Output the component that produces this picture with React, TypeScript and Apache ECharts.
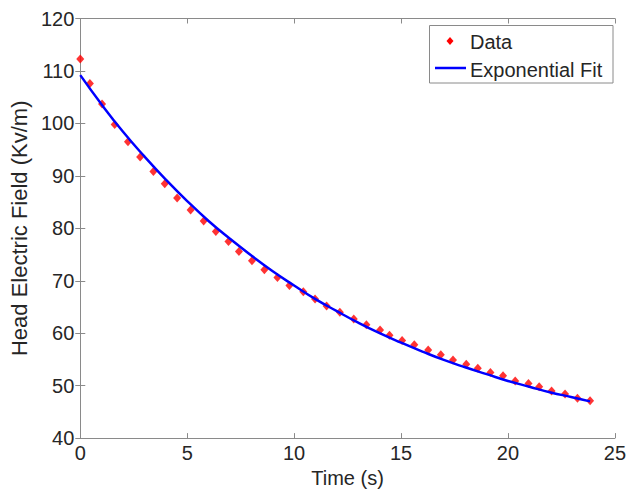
import React, { useEffect, useRef } from "react";
import * as echarts from "echarts";

const dataTime = [
  0, 0.45, 1.02, 1.61, 2.23, 2.8, 3.42, 3.95, 4.53, 5.16, 5.77, 6.34, 6.93, 7.42,
  8.03, 8.61, 9.22, 9.78, 10.43, 10.98, 11.52, 12.14, 12.79, 13.38, 14.02, 14.46,
  15.05, 15.62, 16.27, 16.86, 17.43, 18.05, 18.59, 19.18, 19.77, 20.34, 20.96,
  21.46, 22.04, 22.67, 23.25, 23.84,
];
const dataField = [
  112.3, 107.6, 103.7, 99.8, 96.5, 93.6, 90.85, 88.5, 85.8, 83.5, 81.4, 79.4, 77.5,
  75.6, 73.8, 72.1, 70.6, 69.1, 67.9, 66.5, 65.2, 64.0, 62.7, 61.6, 60.6, 59.6,
  58.6, 57.8, 56.8, 55.9, 54.9, 54.1, 53.3, 52.5, 51.9, 50.9, 50.4, 49.8, 49.0,
  48.4, 47.6, 47.1,
];

const fitTime = [
  0, 1, 2, 3, 4, 5, 6, 7, 8, 9, 10, 11, 12, 13, 14, 15, 16, 17, 18, 19, 20, 21, 22,
  23, 23.84,
];
const fitField = [
  109.2, 103.6, 98.4, 93.7, 89.3, 85.2, 81.4, 78.0, 74.8, 71.8, 69.1, 66.5, 64.2,
  62.0, 60.0, 58.2, 56.5, 54.9, 53.5, 52.2, 50.9, 49.8, 48.7, 47.8, 47.0,
];

const xTicks = { min: 0, max: 25, interval: 5 };
const yTicks = { min: 40, max: 120, interval: 10 };

const FONT = "'Liberation Sans', Arial, Helvetica, sans-serif";
const TEXT = "#262626";
const AXIS = "#8a8a8a";

export default function App() {
  const ref = useRef<HTMLDivElement>(null);

  useEffect(() => {
    document.body.style.margin = "0";
    if (!ref.current) return;
    const chart = echarts.init(ref.current, undefined, { renderer: "svg" });

    const axisCommon = {
      type: "value" as const,
      axisLine: { show: true, lineStyle: { color: AXIS, width: 1 } },
      axisTick: { show: true, inside: true, length: 5, lineStyle: { color: AXIS } },
      splitLine: { show: false },
    };

    chart.setOption({
      animation: false,
      backgroundColor: "#ffffff",
      textStyle: { fontFamily: FONT },
      grid: { left: 79, right: 12, top: 18.5, bottom: 49.5, containLabel: false },
      xAxis: [
        {
          ...axisCommon,
          ...xTicks,
          position: "bottom",
          name: "Time (s)",
          nameLocation: "middle",
          nameGap: 27,
          nameTextStyle: { fontSize: 20, color: TEXT, fontFamily: FONT },
          axisLabel: { fontSize: 20, color: TEXT, margin: 5, fontFamily: FONT },
        },
        {
          ...axisCommon,
          ...xTicks,
          position: "top",
          axisLabel: { show: false },
        },
      ],
      yAxis: [
        {
          ...axisCommon,
          ...yTicks,
          position: "left",
          name: "Head Electric Field (Kv/m)",
          nameLocation: "middle",
          nameGap: 44,
          nameTextStyle: { fontSize: 22, color: TEXT, fontFamily: FONT },
          axisLabel: { fontSize: 20, color: TEXT, margin: 6, fontFamily: FONT },
        },
        {
          ...axisCommon,
          ...yTicks,
          position: "right",
          axisLabel: { show: false },
        },
      ],
      series: [
        {
          name: "Data",
          type: "scatter",
          symbol: "diamond",
          symbolSize: [8, 9],
          itemStyle: { color: "#ff0000" },
          data: dataTime.map((t, i) => [t, dataField[i]]),
          z: 2,
        },
        {
          name: "Exponential Fit",
          type: "line",
          smooth: true,
          showSymbol: false,
          lineStyle: { color: "#0000ff", width: 2.5 },
          data: fitTime.map((t, i) => [t, fitField[i]]),
          z: 3,
        },
      ],
      graphic: [
        {
          type: "rect",
          shape: { x: 429.5, y: 25.5, width: 183.5, height: 57.5 },
          style: { fill: "#ffffff", stroke: AXIS, lineWidth: 1 },
          z: 10,
        },
        {
          type: "polygon",
          shape: {
            points: [
              [450, 37],
              [453.5, 41],
              [450, 45],
              [446.5, 41],
            ],
          },
          style: { fill: "#ff0000" },
          z: 11,
        },
        {
          type: "line",
          shape: { x1: 435, y1: 68, x2: 466, y2: 68 },
          style: { stroke: "#0000ff", lineWidth: 2.5 },
          z: 11,
        },
        {
          type: "text",
          x: 470,
          y: 42,
          style: {
            text: "Data",
            fontSize: 20,
            fontFamily: FONT,
            fill: TEXT,
            verticalAlign: "middle",
          },
          z: 11,
        },
        {
          type: "text",
          x: 470,
          y: 70,
          style: {
            text: "Exponential Fit",
            fontSize: 20,
            fontFamily: FONT,
            fill: TEXT,
            verticalAlign: "middle",
          },
          z: 11,
        },
      ],
    });

    return () => chart.dispose();
  }, []);

  return <div ref={ref} style={{ width: 629, height: 493 }} />;
}
